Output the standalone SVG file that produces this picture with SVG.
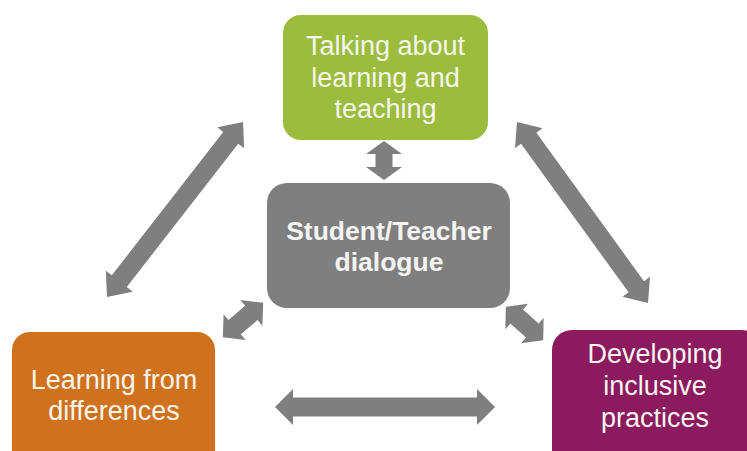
<svg xmlns="http://www.w3.org/2000/svg" width="747" height="451" viewBox="0 0 747 451">
<style>
.box{stroke:none}
.t{font-family:"Liberation Sans",Arial,sans-serif;font-size:27px;fill:#F6F6F0;text-anchor:middle}
.b{font-weight:bold;font-size:26.5px;fill:#F4F4F4}
.arr{fill:#7F7F7F;stroke:none}
</style>
<rect width="747" height="451" fill="#FFFFFF"/>
<g id="connectors">
<polygon class="arr" transform="translate(175,209.5) rotate(-52.15)" points="-110.8,0 -90.8,-17 -90.8,-9.5 90.8,-9.5 90.8,-17 110.8,0 90.8,17 90.8,9.5 -90.8,9.5 -90.8,17"/>
<polygon class="arr" transform="translate(582.5,212.5) rotate(54.1)" points="-111.7,0 -91.7,-17 -91.7,-9.5 91.7,-9.5 91.7,-17 111.7,0 91.7,17 91.7,9.5 -91.7,9.5 -91.7,17"/>
<polygon class="arr" transform="translate(384,160.5) rotate(90)" points="-19.5,0 -6.5,-18 -6.5,-8.5 6.5,-8.5 6.5,-18 19.5,0 6.5,18 6.5,8.5 -6.5,8.5 -6.5,18"/>
<polygon class="arr" transform="translate(385,407)" points="-110,0 -92,-18 -92,-9.5 92,-9.5 92,-18 110,0 92,18 92,9.5 -92,9.5 -92,18"/>
<polygon class="arr" transform="translate(243,320) rotate(-40.4)" points="-26.5,0 -11,-17 -11,-9.5 11,-9.5 11,-17 26.5,0 11,17 11,9.5 -11,9.5 -11,17"/>
<polygon class="arr" transform="translate(524.5,323.5) rotate(41.7)" points="-25,0 -10.5,-17 -10.5,-9.5 10.5,-9.5 10.5,-17 25,0 10.5,17 10.5,9.5 -10.5,9.5 -10.5,17"/>
</g>
<g id="node-talking">
<rect class="box" x="283" y="15" width="205" height="125" rx="18" fill="#9CBC3E"/>
<text class="t" x="385.5" y="55">Talking about</text>
<text class="t" x="385.5" y="87">learning and</text>
<text class="t" x="385.5" y="118">teaching</text>
</g>
<g id="node-dialogue">
<rect class="box" x="267" y="183" width="243" height="125" rx="20" fill="#7F7F7F"/>
<text class="t b" x="389" y="240">Student/Teacher</text>
<text class="t b" x="389" y="271">dialogue</text>
</g>
<g id="node-differences">
<rect class="box" x="12" y="332" width="203" height="140" rx="18" fill="#D0711E"/>
<text class="t" x="114" y="389">Learning from</text>
<text class="t" x="114" y="420">differences</text>
</g>
<g id="node-inclusive">
<rect class="box" x="552" y="330" width="210" height="140" rx="20" fill="#8B1A5F"/>
<text class="t" x="655" y="363">Developing</text>
<text class="t" x="655" y="395">inclusive</text>
<text class="t" x="655" y="427">practices</text>
</g>
</svg>
